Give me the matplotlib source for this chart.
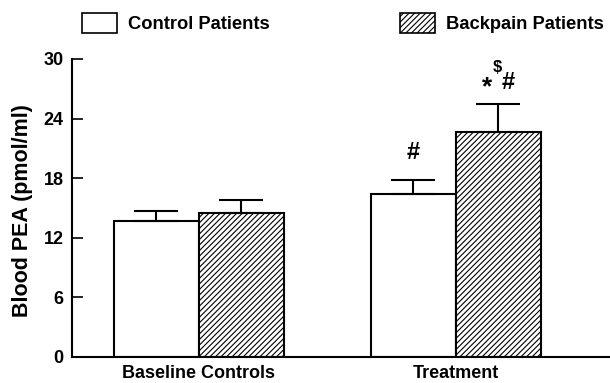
import numpy as np
import matplotlib.pyplot as plt
from matplotlib.patches import Patch

plt.rcParams['font.family'] = ['Liberation Sans', 'DejaVu Sans']
plt.rcParams['font.weight'] = 'bold'
plt.rcParams['hatch.linewidth'] = 0.8

groups = ['Baseline Controls', 'Treatment']
control_mean = [13.7, 16.4]
control_err = [1.0, 1.4]
backpain_mean = [14.5, 22.6]
backpain_err = [1.3, 2.9]
yticks = [0, 6, 12, 18, 24, 30]

fig = plt.figure(figsize=(6.1, 3.83), dpi=100)
ax = fig.add_axes([0.118, 0.068, 0.882, 0.778])

x = np.arange(len(groups))
w = 0.331
ekw = dict(elinewidth=1.5, capthick=1.5, capsize=15.5, ecolor='black')
ax.bar(x - w / 2, control_mean, w, color='white', edgecolor='black', linewidth=1.5,
       yerr=[np.zeros(2), control_err], error_kw=ekw, label='Control Patients')
ax.bar(x + w / 2, backpain_mean, w, color='white', edgecolor='black', linewidth=1.5,
       hatch='//////', yerr=[np.zeros(2), backpain_err], error_kw=ekw, label='Backpain Patients')

# significance marks
ax.text(1 - w / 2, 20.6, '#', ha='center', va='center', fontsize=17, fontweight='bold')
ax.text(1.12, 27.1, '*', ha='center', va='center', fontsize=19, fontweight='bold')
ax.text(1.202, 27.6, '#', ha='center', va='center', fontsize=17, fontweight='bold')
ax.text(1.16, 29.1, '$', ha='center', va='center', fontsize=12, fontweight='bold')

ax.set_xlim(-0.494, 1.6)
ax.set_ylim(0, 30)
ax.set_yticks(yticks)
ax.set_xticks(x)
ax.set_xticklabels(groups, fontsize=13, fontweight='bold')
ax.tick_params(axis='x', length=0, pad=6)
ax.tick_params(axis='y', direction='in', length=8, width=1.2, labelsize=13, pad=6)
for lab in ax.get_yticklabels():
    lab.set_fontweight('bold')
ax.set_ylabel('Blood PEA (pmol/ml)', fontsize=15.5, fontweight='bold')
ax.yaxis.set_label_coords(-0.0726, 0.49)
ax.spines['top'].set_visible(False)
ax.spines['right'].set_visible(False)
ax.spines['left'].set_linewidth(1.5)
ax.spines['bottom'].set_linewidth(1.5)

handles = [Patch(facecolor='white', edgecolor='black', linewidth=1.2, label='Control Patients'),
           Patch(facecolor='white', edgecolor='black', linewidth=1.2, hatch='//////', label='Backpain Patients')]
fig.legend(handles=handles, loc='upper left', bbox_to_anchor=(82 / 610, 1 - 13 / 383), ncol=2,
           frameon=False, handlelength=1.9, handleheight=1.3, handletextpad=0.6,
           columnspacing=7.1, borderpad=0, borderaxespad=0, prop={'weight': 'bold', 'size': 13.2})

fig.savefig('out.png', dpi=100)
